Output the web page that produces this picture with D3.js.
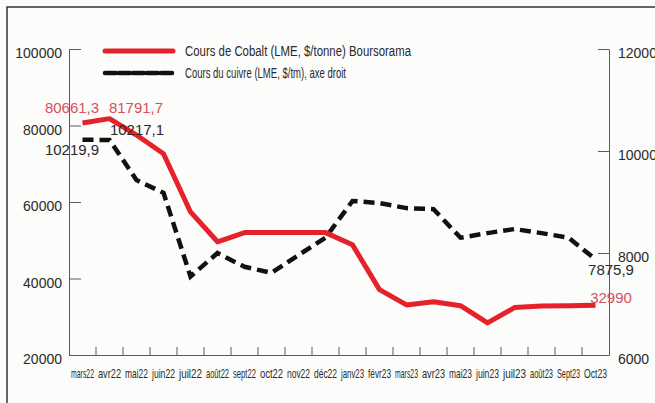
<!DOCTYPE html>
<html>
<head>
<meta charset="utf-8">
<script src="https://cdn.jsdelivr.net/npm/d3@7"></script>
<style>
    body { margin: 0; background: #fcfcfb; }
    svg { display: block; font-family: "Liberation Sans", Arial, sans-serif; }
</style>
</head>
<body>
<svg id="chart" width="655" height="403"></svg>
<script>

// Months (x axis categories)
var months = ["mars22", "avr22", "mai22", "juin22", "juil22", "août22", "sept22", "oct22", "nov22", "déc22",
              "janv23", "févr23", "mars23", "avr23", "mai23", "juin23", "juil23", "août23", "Sept23", "Oct23"];

// Cobalt, $/tonne (left axis)
var cobalt = [80661.3, 81791.7, 77500, 72600, 57400, 49600, 52000, 52000, 52000, 52000,
              48800, 37100, 33100, 33900, 32900, 28400, 32400, 32800, 32900, 32990];

// Copper, $/tm (right axis)
var copper = [10219.9, 10217.1, 9430, 9180, 7540, 8000, 7730, 7610, 7960, 8300,
              9020, 8980, 8880, 8860, 8300, 8390, 8470, 8390, 8300, 7875.9];

var leftTicks  = [20000, 40000, 60000, 80000, 100000];
var rightTicks = [6000, 8000, 10000, 12000];

// Labelled points : [series, month index, text]
var pointLabels = [
    ["cobalt", 0, "80661,3"], ["cobalt", 1, "81791,7"], ["cobalt", 19, "32990"],
    ["copper", 0, "10219,9"], ["copper", 1, "10217,1"], ["copper", 19, "7875,9"]
];

var legendItems = [
    { name: "Cours de Cobalt  (LME, $/tonne) Boursorama", key: "cobalt", len: 226 },
    { name: "Cours du cuivre (LME, $/tm), axe droit", key: "copper", len: 161 }
];

var RED = "#e5222b", RED_LABEL = "#d6505b", INK = "#2a2a2a", AXIS = "#5a5a5a";

var svg = d3.select("#chart");

// Scanned frame around the chart
svg.append("rect")
   .attr("x", 7).attr("y", 7)
   .attr("width", 680).attr("height", 430)
   .attr("fill", "none")
   .attr("stroke", "#333")
   .attr("stroke-width", 1.5);

var x  = d3.scaleBand().domain(months).range([69, 609]).padding(0);
var yL = d3.scaleLinear().domain([20000, 100000]).range([355, 49]);
var yR = d3.scaleLinear().domain([6000, 12000]).range([355, 49]);
var cx = function(i){ return x(months[i]) + x.bandwidth() / 2; };

// Left axis, ticks pointing inside
var gLeft = svg.append("g")
               .attr("transform", "translate(69,0)")
               .call(d3.axisLeft(yL).tickValues(leftTicks).tickSize(-12).tickSizeOuter(0).tickPadding(7).tickFormat(d3.format("d")));

// Right axis
var gRight = svg.append("g")
                .attr("transform", "translate(609,0)")
                .call(d3.axisRight(yR).tickValues(rightTicks).tickSize(-11).tickSizeOuter(0).tickPadding(9).tickFormat(d3.format("d")));

[gLeft, gRight].forEach(function(g){
    g.selectAll("path, line").attr("stroke", AXIS).attr("stroke-width", 1);
    g.selectAll("text").attr("font-size", 14).attr("fill", INK).attr("dy", "0.62em");
});

// Bottom axis : labels centred in bands, ticks on band boundaries
var gBottom = svg.append("g")
                 .attr("transform", "translate(0,355)")
                 .call(d3.axisBottom(x).tickSize(0).tickPadding(14));
gBottom.select(".domain").attr("stroke", AXIS).attr("stroke-width", 1);
gBottom.selectAll("text")
       .attr("font-size", 13)
       .attr("fill", INK)
       .attr("textLength", 23)
       .attr("lengthAdjust", "spacingAndGlyphs");

gBottom.selectAll(".boundary")
       .data(months.slice(1))
       .enter().append("line")
       .attr("class", "boundary")
       .attr("x1", function(d){ return x(d); })
       .attr("x2", function(d){ return x(d); })
       .attr("y1", 0).attr("y2", -8)
       .attr("stroke", AXIS);

// Series lines
var lineCobalt = d3.line().x(function(d, i){ return cx(i); }).y(function(d){ return yL(d); });
var lineCopper = d3.line().x(function(d, i){ return cx(i); }).y(function(d){ return yR(d); });

svg.append("path")
   .datum(copper)
   .attr("d", lineCopper)
   .attr("fill", "none")
   .attr("stroke", "#111")
   .attr("stroke-width", 4.5)
   .attr("stroke-dasharray", "11,6");

svg.append("path")
   .datum(cobalt)
   .attr("d", lineCobalt)
   .attr("fill", "none")
   .attr("stroke", RED)
   .attr("stroke-width", 5)
   .attr("stroke-linejoin", "round");

// Value labels
var labelPos = {
    "cobalt0": [72, 113], "cobalt1": [136, 113], "cobalt19": [611, 303],
    "copper0": [72, 155], "copper1": [137, 135], "copper19": [611, 275]
};
pointLabels.forEach(function(p){
    var pos = labelPos[p[0] + p[1]];
    svg.append("text")
       .attr("x", pos[0]).attr("y", pos[1])
       .attr("text-anchor", "middle")
       .attr("font-size", 15)
       .attr("fill", p[0] == "cobalt" ? RED_LABEL : INK)
       .text(p[2]);
});

// Legend
var legend = svg.selectAll(".legend")
                .data(legendItems)
                .enter().append("g")
                .attr("class", "legend")
                .attr("transform", function(d, i){ return "translate(105," + (51 + i * 22) + ")"; });

legend.append("line")
      .attr("x1", 0).attr("x2", 68)
      .attr("stroke", function(d){ return d.key == "cobalt" ? RED : "#111"; })
      .attr("stroke-width", function(d){ return d.key == "cobalt" ? 5 : 4.5; })
      .attr("stroke-dasharray", function(d){ return d.key == "cobalt" ? null : "11,3"; })
      .attr("stroke-linecap", "round");

legend.append("text")
      .attr("x", 80).attr("y", 5)
      .attr("font-size", 14)
      .attr("fill", INK)
      .attr("textLength", function(d){ return d.len; })
      .attr("lengthAdjust", "spacingAndGlyphs")
      .text(function(d){ return d.name; });

</script>
</body>
</html>
